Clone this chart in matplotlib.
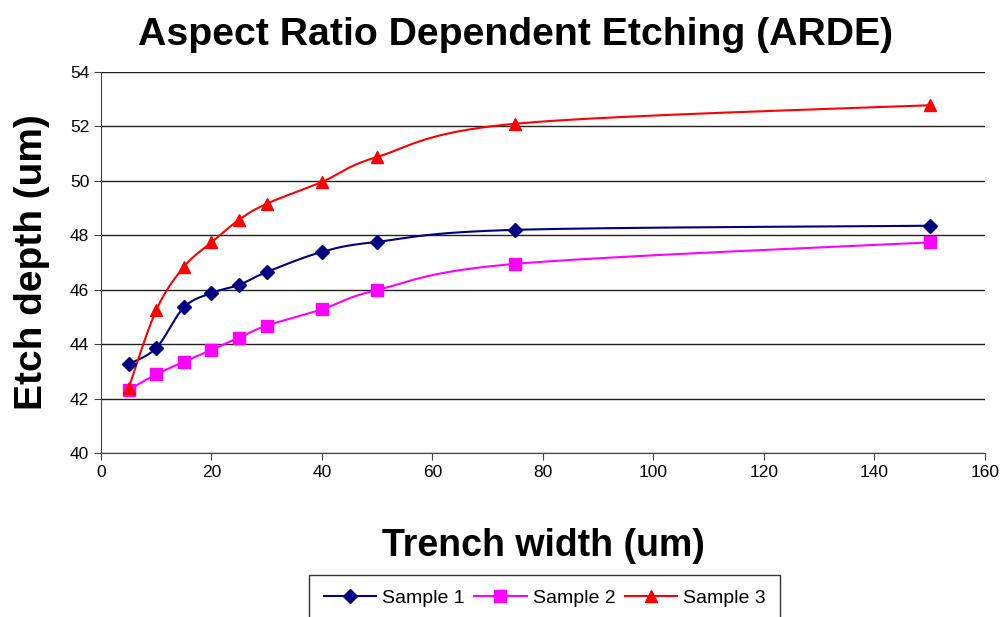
import numpy as np
import matplotlib
matplotlib.use("Agg")
import matplotlib.pyplot as plt

plt.rcParams['font.family'] = ['Liberation Sans', 'DejaVu Sans']

# ----- Data
widths = [5, 10, 15, 20, 25, 30, 40, 50, 75, 150]
sample1 = [43.27, 43.86, 45.35, 45.88, 46.18, 46.65, 47.39, 47.76, 48.20, 48.35]
sample2 = [42.32, 42.89, 43.35, 43.79, 44.24, 44.68, 45.28, 45.99, 46.95, 47.74]
sample3 = [42.39, 45.25, 46.84, 47.74, 48.57, 49.16, 49.96, 50.88, 52.10, 52.78]
labels = ['Sample 1', 'Sample 2', 'Sample 3']
colors = ['#000080', '#FF00FF', '#FF0000']
markers = ['D', 's', '^']
msizes = [7, 8, 9]

xmin, xmax = 0, 160
ymin, ymax = 40, 54


# ----- Excel-like smoothing (Catmull-Rom bezier in pixel-like space)
def smooth(x, y, n=30):
    x = np.asarray(x, float)
    y = np.asarray(y, float)
    sx = 884.0 / (xmax - xmin)
    sy = 381.0 / (ymax - ymin)
    px, py = x * sx, y * sy
    ox, oy = [], []
    for i in range(len(px) - 1):
        p0 = (px[max(i - 1, 0)], py[max(i - 1, 0)])
        p1 = (px[i], py[i])
        p2 = (px[i + 1], py[i + 1])
        p3 = (px[min(i + 2, len(px) - 1)], py[min(i + 2, len(px) - 1)])
        c1 = (p1[0] + (p2[0] - p0[0]) / 6, p1[1] + (p2[1] - p0[1]) / 6)
        c2 = (p2[0] - (p3[0] - p1[0]) / 6, p2[1] - (p3[1] - p1[1]) / 6)
        t = np.linspace(0, 1, n)
        bx = (1-t)**3*p1[0] + 3*(1-t)**2*t*c1[0] + 3*(1-t)*t**2*c2[0] + t**3*p2[0]
        by = (1-t)**3*p1[1] + 3*(1-t)**2*t*c1[1] + 3*(1-t)*t**2*c2[1] + t**3*p2[1]
        ox.extend(bx)
        oy.extend(by)
    return np.array(ox) / sx, np.array(oy) / sy


fig = plt.figure(figsize=(10.05, 6.17), dpi=100)
ax = fig.add_axes([0.1005, 0.2658, 0.8795, 0.6175])

for ys, lab, c, m, ms in zip([sample1, sample2, sample3], labels, colors, markers, msizes):
    sx_, sy_ = smooth(widths, ys)
    ax.plot(sx_, sy_, color=c, lw=1.5, zorder=3)
    ax.plot(widths, ys, linestyle='none', marker=m, ms=ms, color=c, zorder=4)
    ax.plot([], [], color=c, lw=1.5, marker=m, ms=ms, label=lab)

ax.set_xlim(xmin, xmax)
ax.set_ylim(ymin, ymax)
ax.set_xticks(np.arange(0, 161, 20))
ax.set_yticks(np.arange(40, 55, 2))
ax.yaxis.grid(True, color='#222222', lw=1)
ax.set_axisbelow(True)
for s in ['top', 'right']:
    ax.spines[s].set_visible(False)
for s in ['left', 'bottom']:
    ax.spines[s].set_color('#444444')
ax.tick_params(direction='out', length=5, labelsize=12.5, color='#444444')

fig.text(0.513, 0.927, 'Aspect Ratio Dependent Etching (ARDE)', fontsize=28.3,
         fontweight='bold', ha='center', va='baseline')
ax.set_xlabel('Trench width (um)', fontsize=27, fontweight='bold')
ax.xaxis.set_label_coords(0.5, -0.197)
ax.set_ylabel('Etch depth (um)', fontsize=28, fontweight='bold')
ax.yaxis.set_label_coords(-0.058, 0.5)

leg = fig.legend(loc='upper center', bbox_to_anchor=(0.542, 0.068), ncol=3,
                 fontsize=14, frameon=True, fancybox=False, edgecolor='black',
                 handlelength=2.7, columnspacing=0.5, handletextpad=0.3,
                 borderpad=0.75, borderaxespad=0)
leg.get_frame().set_linewidth(1)

fig.savefig('out.png', dpi=100)
